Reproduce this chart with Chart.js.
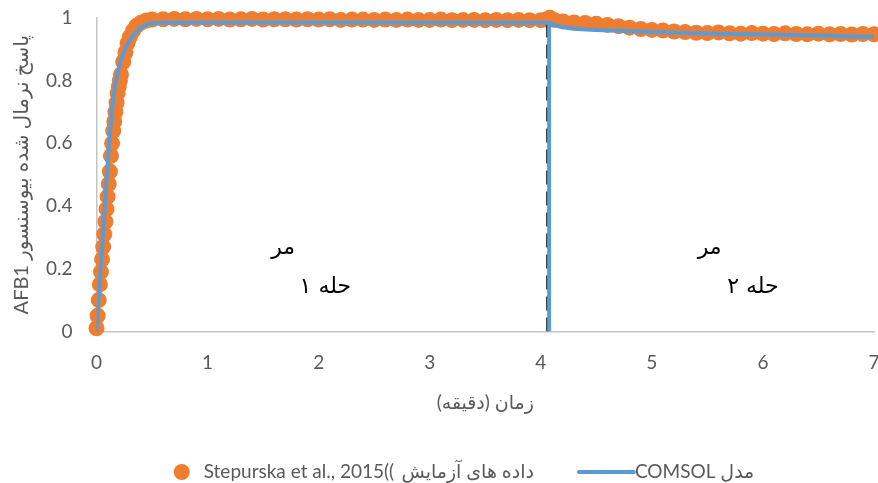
<!DOCTYPE html>
<html>
<head>
<meta charset="utf-8">
<script src="https://cdn.jsdelivr.net/npm/chart.js@4.4.0/dist/chart.umd.min.js"></script>
<style>
  html, body { margin: 0; padding: 0; background: #fff; }
</style>
</head>
<body>
<canvas id="chart" width="878" height="483"></canvas>
<script>
// Experimental data (time in minutes, normalized response)
const expTime = [
  0, 0.01, 0.02, 0.03, 0.04, 0.05, 0.06, 0.07, 0.08, 0.09, 0.10, 0.11, 0.12, 0.13, 0.14, 0.15,
  0.16, 0.17, 0.18, 0.19, 0.20, 0.21, 0.22, 0.24, 0.26, 0.28, 0.30, 0.33, 0.36, 0.40, 0.45, 0.50,
  0.6, 0.7, 0.8, 0.9, 1.0, 1.1, 1.2, 1.3, 1.4, 1.5, 1.6, 1.7, 1.8, 1.9, 2.0, 2.1, 2.2, 2.3, 2.4,
  2.5, 2.6, 2.7, 2.8, 2.9, 3.0, 3.1, 3.2, 3.3, 3.4, 3.5, 3.6, 3.7, 3.8, 3.9, 4.0, 4.05, 4.08, 4.12,
  4.2, 4.3, 4.4, 4.5, 4.6, 4.7, 4.8, 4.9, 5.0, 5.1, 5.2, 5.3, 5.4, 5.5, 5.6, 5.7, 5.8, 5.9, 6.0,
  6.1, 6.2, 6.3, 6.4, 6.5, 6.6, 6.7, 6.8, 6.9, 7.0
];
const expValue = [
  0.01, 0.05, 0.10, 0.15, 0.19, 0.23, 0.27, 0.31, 0.35, 0.39, 0.43, 0.47, 0.51, 0.56, 0.60, 0.64,
  0.67, 0.70, 0.73, 0.76, 0.78, 0.80, 0.82, 0.86, 0.89, 0.92, 0.94, 0.96, 0.975, 0.985, 0.992, 0.995,
  0.996, 0.997, 0.996, 0.997, 0.996, 0.997, 0.995, 0.996, 0.997, 0.995, 0.996, 0.996, 0.995, 0.996, 0.995, 0.996, 0.994, 0.995, 0.995,
  0.994, 0.995, 0.994, 0.995, 0.994, 0.994, 0.995, 0.993, 0.994, 0.994, 0.993, 0.994, 0.993, 0.994, 0.993, 0.993, 0.995, 1.001, 0.994,
  0.989, 0.986, 0.984, 0.982, 0.978, 0.974, 0.969, 0.965, 0.962, 0.960, 0.957, 0.955, 0.953, 0.952, 0.954, 0.951, 0.950, 0.952, 0.950,
  0.949, 0.951, 0.949, 0.948, 0.950, 0.948, 0.949, 0.947, 0.949, 0.948
];

// COMSOL model curve
const modelTime = [
  0, 0.03, 0.06, 0.09, 0.12, 0.15, 0.18, 0.21, 0.25, 0.30, 0.35, 0.40, 0.45, 0.50, 0.60,
  1.0, 2.0, 3.0, 4.07, 4.08, 4.12, 4.2, 4.3, 4.5, 4.8, 5.0, 5.4, 6.0, 6.5, 7.0
];
const modelValue = [
  0, 0.16, 0.32, 0.48, 0.63, 0.74, 0.81, 0.855, 0.895, 0.93, 0.953, 0.968, 0.978, 0.983, 0.985,
  0.986, 0.986, 0.985, 0.985, 0.984, 0.978, 0.971, 0.966, 0.962, 0.958, 0.955, 0.951, 0.947, 0.944, 0.940
];

// stage switch: model step and dashed divider
const stepTime = [4.075, 4.075];
const stepValue = [0, 0.985];
const dividerTime = [4.06, 4.06];
const dividerValue = [0, 0.98];

// legend text, drawn left to right as it appears
const expLabelParts = ['Stepurska et al., 2015((', 'داده های آزمایش'];
const seriesNames = [expLabelParts.join(' '), 'COMSOL مدل'];
const stageText = ['مر', 'حله ۱', 'مر', 'حله ۲'];
const stageX = [1.68, 2.06, 5.52, 5.91];
const stageY = [0.265, 0.14, 0.265, 0.14];

const xTicks = [0, 1, 2, 3, 4, 5, 6, 7];
const yTicks = [0, 0.2, 0.4, 0.6, 0.8, 1];
const yTickLabels = ['0', '0.2', '0.4', '0.6', '0.8', '1'];

const ORANGE = '#ED7D31';
const BLUE = '#5B9BD5';
const TEXT = '#595959';
const FONT = 'Lato, "DejaVu Sans", sans-serif';

const toPoints = (xs, ys) => xs.map((x, i) => ({ x: x, y: ys[i] }));

// stage labels placed in data units
const stagePlugin = {
  id: 'stageLabels',
  afterDatasetsDraw(chart) {
    const { ctx, scales: { x, y } } = chart;
    ctx.save();
    ctx.font = '22px "DejaVu Sans"';
    ctx.fillStyle = '#000';
    ctx.textAlign = 'center';
    ctx.textBaseline = 'middle';
    stageText.forEach((t, i) => {
      ctx.fillText(t, x.getPixelForValue(stageX[i]), y.getPixelForValue(stageY[i]));
    });
    ctx.restore();
  }
};

// legend row under the axis title
const legendPlugin = {
  id: 'bottomLegend',
  afterDraw(chart) {
    const ctx = chart.ctx;
    const yMid = 472;
    ctx.save();
    ctx.font = '19px ' + FONT;
    ctx.textBaseline = 'middle';
    const space = ctx.measureText(' ').width * 1.5;
    const wa = ctx.measureText(expLabelParts[0]).width;
    const wb = ctx.measureText(expLabelParts[1]).width;
    const w0 = wa + space + wb;
    const w1 = ctx.measureText(seriesNames[1]).width;
    const total = 16 + 14 + w0 + 45 + 55 + 1 + w1;
    let x = 464 - total / 2;

    ctx.fillStyle = ORANGE;
    ctx.beginPath();
    ctx.arc(x + 8, yMid, 8, 0, Math.PI * 2);
    ctx.fill();
    x += 30;
    ctx.fillStyle = TEXT;
    ctx.fillText(expLabelParts[0], x, yMid);
    ctx.fillText(expLabelParts[1], x + wa + space, yMid);
    x += w0 + 45;

    ctx.strokeStyle = BLUE;
    ctx.lineWidth = 4;
    ctx.lineCap = 'round';
    ctx.beginPath();
    ctx.moveTo(x, yMid);
    ctx.lineTo(x + 55, yMid);
    ctx.stroke();
    x += 56;
    ctx.fillText(seriesNames[1], x, yMid);
    ctx.restore();
  }
};

new Chart(document.getElementById('chart'), {
  type: 'scatter',
  data: {
    datasets: [
      {
        label: seriesNames[1],
        data: toPoints(modelTime, modelValue),
        showLine: true,
        borderColor: BLUE,
        borderWidth: 4,
        pointRadius: 0,
        cubicInterpolationMode: 'monotone',
        order: 0
      },
      {
        label: 'step',
        data: toPoints(stepTime, stepValue),
        showLine: true,
        borderColor: BLUE,
        borderWidth: 4,
        pointRadius: 0,
        order: 0
      },
      {
        label: 'divider',
        data: toPoints(dividerTime, dividerValue),
        showLine: true,
        borderColor: '#111',
        borderWidth: 2.5,
        borderDash: [14, 7],
        pointRadius: 0,
        order: 1
      },
      {
        label: seriesNames[0],
        data: toPoints(expTime, expValue),
        backgroundColor: ORANGE,
        borderColor: ORANGE,
        borderWidth: 0,
        pointRadius: 8,
        pointHoverRadius: 8,
        clip: false,
        order: 2
      }
    ]
  },
  options: {
    responsive: false,
    animation: false,
    devicePixelRatio: 1,
    layout: { autoPadding: false, padding: { top: 18, left: 0, right: 0, bottom: 67 } },
    plugins: {
      legend: { display: false },
      tooltip: { enabled: false }
    },
    scales: {
      x: {
        type: 'linear',
        min: 0,
        max: 7,
        afterBuildTicks: s => { s.ticks = xTicks.map(v => ({ value: v })); },
        // Chart.js counts tick padding twice and adds it to the edge overflow
        afterFit: s => {
          s.height -= s.options.ticks.padding;
          s.paddingLeft = 0;
          s.paddingRight = 4;
        },
        grid: { display: false, drawTicks: false },
        border: { display: true, color: '#C4C4C4', width: 1.5 },
        ticks: { padding: 20, color: TEXT, font: { family: FONT, size: 19 } },
        title: {
          display: true,
          text: 'زمان (دقیقه)',
          color: TEXT,
          font: { family: FONT, size: 19 },
          padding: { top: 17, bottom: 2 }
        }
      },
      y: {
        min: 0,
        max: 1,
        afterBuildTicks: s => { s.ticks = yTicks.map(v => ({ value: v })); },
        afterFit: s => {
          s.width -= s.options.ticks.padding;
          s.paddingTop = 0;
          s.paddingBottom = 0;
        },
        grid: { display: false, drawTicks: false },
        border: { display: true, color: '#C4C4C4', width: 1.5 },
        ticks: {
          padding: 24,
          color: TEXT,
          font: { family: FONT, size: 19 },
          callback: (v, i) => yTickLabels[i]
        },
        title: {
          display: true,
          text: 'AFB1 پاسخ نرمال شده بیوسنسور',
          color: TEXT,
          font: { family: FONT, size: 20 },
          padding: { top: 10, bottom: 12 }
        }
      }
    }
  },
  plugins: [stagePlugin, legendPlugin]
});
</script>
</body>
</html>
